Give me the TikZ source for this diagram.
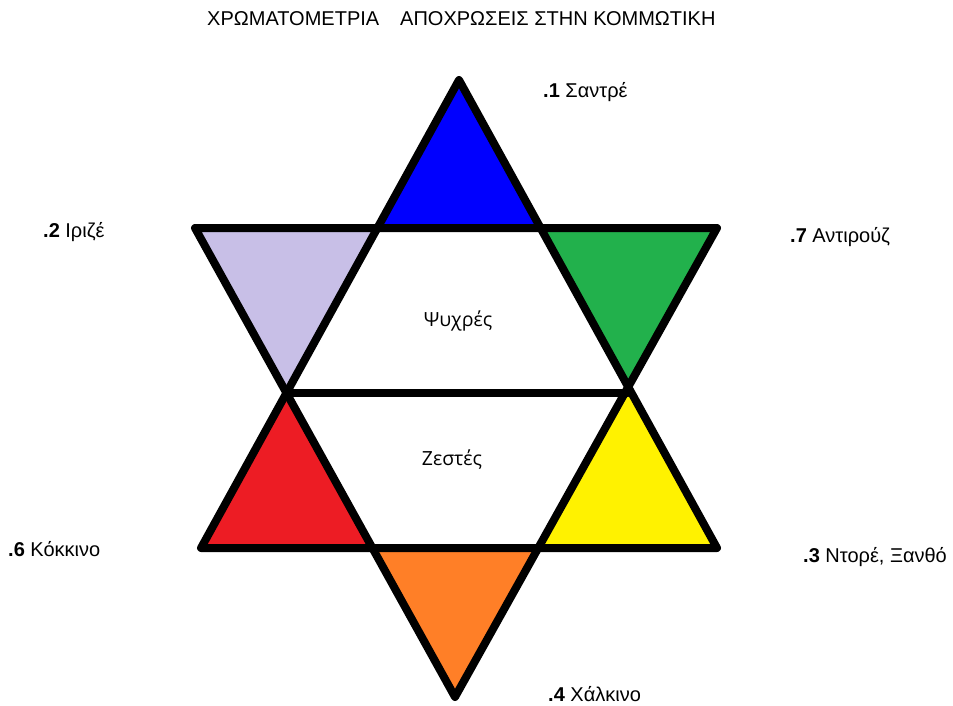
\documentclass[tikz,border=0pt]{standalone}
\usepackage{fontspec}
\setmainfont{Liberation Sans}
\newfontfamily\opensans{Open Sans}
\definecolor{cblue}{RGB}{0,0,255}
\definecolor{clav}{RGB}{200,191,231}
\definecolor{cgreen}{RGB}{34,177,76}
\definecolor{cred}{RGB}{237,28,36}
\definecolor{cyellow}{RGB}{255,242,0}
\definecolor{corange}{RGB}{255,127,39}
\begin{document}
\begin{tikzpicture}[x=1pt,y=-1pt,
  outline/.style={line width=8pt,line join=round,line cap=round},
  lbl/.style={anchor=west,inner sep=0pt,font=\fontsize{20}{22}\selectfont},
  mid/.style={inner sep=0pt,font=\opensans\fontsize{19.5}{22}\selectfont}]
\useasboundingbox[fill=white] (0,0) rectangle (953,706);
% key points
\coordinate (U) at (459,80);
\coordinate (UL) at (201,548);
\coordinate (UR) at (717,548);
\coordinate (DL) at (195,228);
\coordinate (DR) at (717,228);
\coordinate (D) at (455,697);
\coordinate (ML) at (286.5,393);
\coordinate (MR) at (628,393);
\coordinate (TL) at (377.5,228);
\coordinate (TR) at (540.5,228);
\coordinate (BL) at (372.5,548);
\coordinate (BR) at (538,548);
% fills
\fill[cblue] (U) -- (TL) -- (TR) -- cycle;
\fill[clav] (DL) -- (TL) -- (ML) -- cycle;
\fill[cgreen] (TR) -- (DR) -- (MR) -- cycle;
\fill[cred] (ML) -- (UL) -- (BL) -- cycle;
\fill[cyellow] (MR) -- (BR) -- (UR) -- cycle;
\fill[corange] (BL) -- (BR) -- (D) -- cycle;
% outlines
\draw[outline] (U) -- (UL) -- (UR) -- cycle;
\draw[outline] (DL) -- (DR) -- (D) -- cycle;
\draw[outline] (ML) -- (MR);
% texts
\node[lbl] (t1) at (207,19) {ΧΡΩΜΑΤΟΜΕΤΡΙΑ};
\node[lbl] (t2) at (400,19) {ΑΠΟΧΡΩΣΕΙΣ ΣΤΗΝ ΚΟΜΜΩΤΙΚΗ};
\node[lbl] (l1) at (543,92) {\textbf{.1} Σαντρέ};
\node[lbl] (l2) at (43,232) {\textbf{.2} Ιριζέ};
\node[lbl] (l7) at (790,237) {\textbf{.7} Αντιρούζ};
\node[lbl] (l6) at (8,549) {\textbf{.6} Κόκκινο};
\node[lbl] (l3) at (803,557) {\textbf{.3} Ντορέ, Ξανθό};
\node[lbl] (l4) at (548,694) {\textbf{.4} Χάλκινο};
\node[mid] (cold) at (458,321) {Ψυχρές};
\node[mid] (warm) at (452,460) {Ζεστές};
\end{tikzpicture}
\end{document}
